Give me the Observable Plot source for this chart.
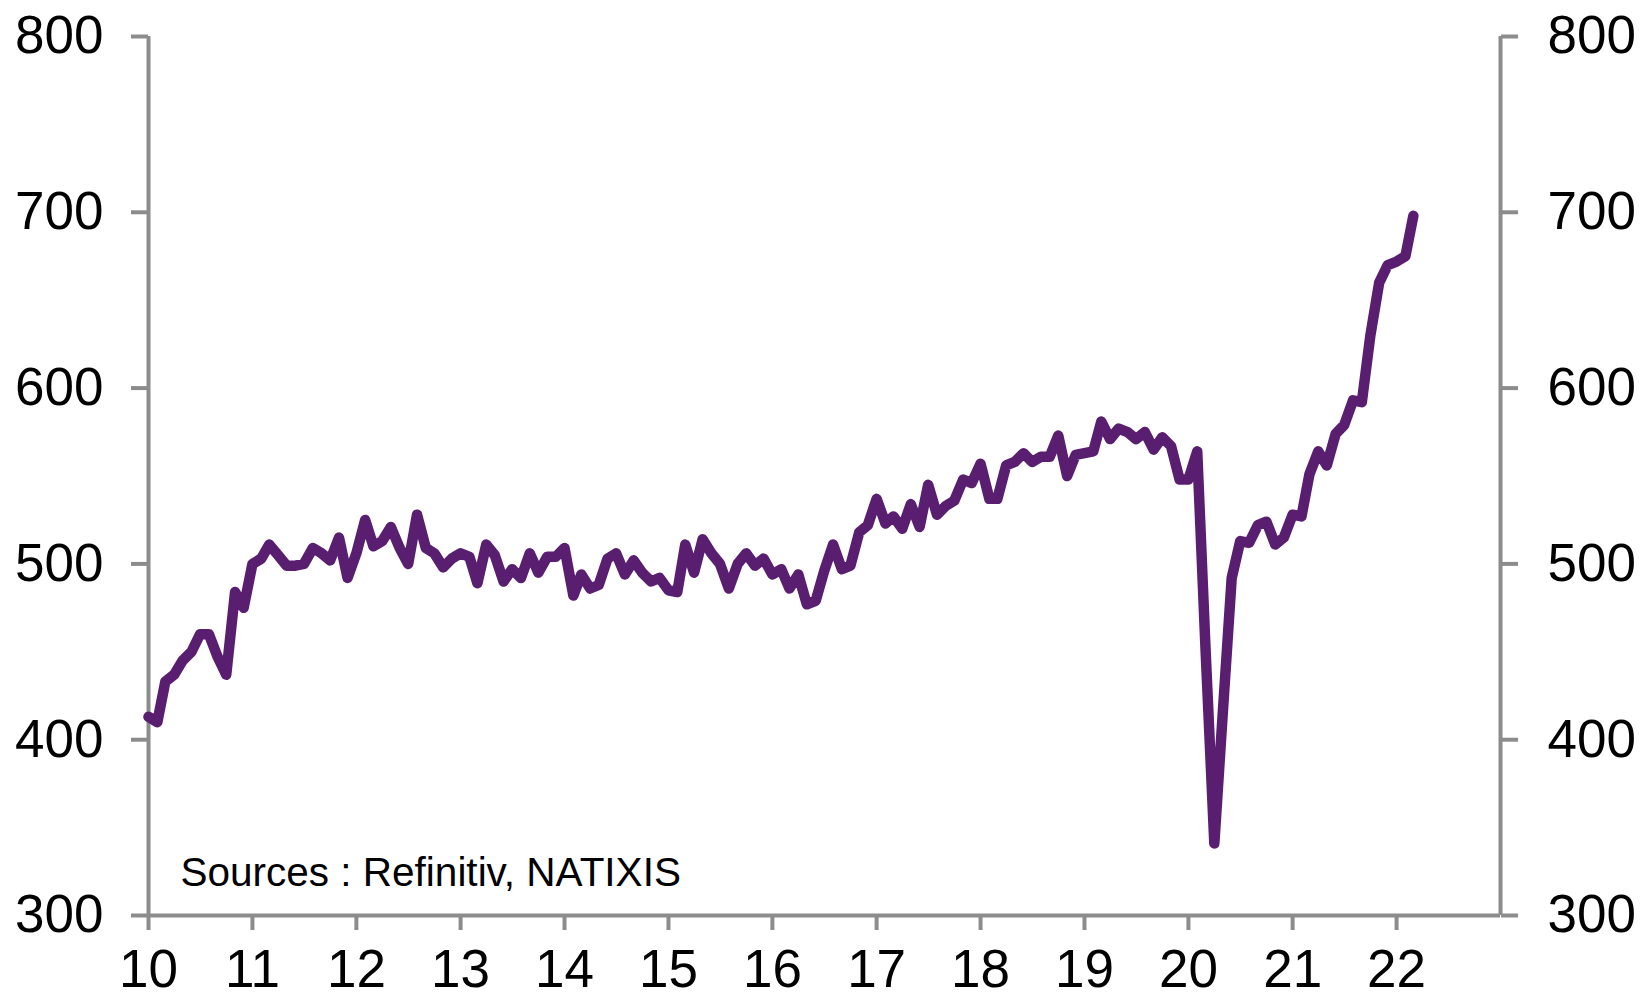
<!DOCTYPE html>
<html>
<head>
<meta charset="utf-8">
<script src="https://cdn.jsdelivr.net/npm/d3@7"></script>
<script src="https://cdn.jsdelivr.net/npm/@observablehq/plot@0.6"></script>
<style>
  html, body { margin: 0; padding: 0; background: #ffffff; }
  #chart svg { display: block; }
</style>
</head>
<body>
<div id="chart"></div>
<script>
// Monthly series, starting January 2010
const firstMonth = "2010-01-01";
const values = [
  413, 410, 433, 437, 445, 450, 460, 460, 447, 437, 484, 475,
  500, 503, 511, 505, 499, 499, 500, 509, 506, 502, 515, 492,
  506, 525, 510, 513, 521, 509, 500, 528, 509, 506, 498, 503,
  506, 504, 489, 511, 505, 490, 497, 492, 506, 495, 504, 504,
  509, 482, 494, 486, 488, 503, 506, 494, 502, 495, 490, 492,
  485, 484, 511, 495, 514, 506, 500, 486, 500, 506, 499, 503,
  494, 497, 486, 494, 477, 479, 496, 511, 497, 499, 518, 522,
  537, 523, 527, 520, 534, 521, 545, 528, 533, 536, 548, 546,
  557, 537, 537, 556, 558, 563, 558, 561, 561, 573, 550, 562,
  563, 564, 581, 571, 577, 575, 571, 575, 565, 572, 567, 548,
  548, 564, 452, 341, 416, 492, 513, 512, 522, 524, 511, 515,
  528, 527, 551, 564, 556, 574, 579, 593, 592, 630, 660, 670,
  672, 675, 698
];
const xTickYears = [2010, 2011, 2012, 2013, 2014, 2015, 2016, 2017, 2018, 2019, 2020, 2021, 2022];
const xTickLabels = ["10", "11", "12", "13", "14", "15", "16", "17", "18", "19", "20", "21", "22"];
const xDomainYears = [2010, 2023];
const yTicks = [300, 400, 500, 600, 700, 800];
const yDomain = [300, 800];
const source = "Sources : Refinitiv, NATIXIS";

const start = new Date(firstMonth + "T00:00:00Z");
const data = values.map((v, i) => ({date: d3.utcMonth.offset(start, i), value: v}));
const xTicks = xTickYears.map(y => new Date(Date.UTC(y, 0, 1)));
const labelOf = new Map(xTicks.map((d, i) => [+d, xTickLabels[i]]));
const xDomain = xDomainYears.map(y => new Date(Date.UTC(y, 0, 1)));

const axisGray = "#8c8c8c";
const lineColor = "#5a1e71";

const chart = Plot.plot({
  width: 1644,
  height: 1000,
  marginLeft: 148,
  marginRight: 144,
  marginTop: 36,
  marginBottom: 85,
  style: {fontFamily: "'Liberation Sans', Arial, sans-serif", background: "#ffffff", color: "#000000"},
  x: {type: "utc", domain: xDomain},
  y: {domain: yDomain},
  marks: [
    Plot.ruleX([xDomain[0], xDomain[1]], {stroke: axisGray, strokeWidth: 4}),
    Plot.ruleY([yDomain[0]], {stroke: axisGray, strokeWidth: 4}),
    Plot.axisY({anchor: "left", ticks: yTicks, tickSize: 17, tickPadding: 28, fontSize: 53,
      stroke: axisGray, strokeWidth: 4, fill: "#000000", label: null}),
    Plot.axisY({anchor: "right", ticks: yTicks, tickSize: 17, tickPadding: 30, fontSize: 53,
      stroke: axisGray, strokeWidth: 4, fill: "#000000", label: null}),
    Plot.axisX({anchor: "bottom", ticks: xTicks, tickFormat: d => labelOf.get(+d), tickSize: 15,
      tickPadding: 19, fontSize: 53, stroke: axisGray, strokeWidth: 4, fill: "#000000", label: null}),
    Plot.line(data, {x: "date", y: "value", stroke: lineColor, strokeWidth: 10.5,
      strokeLinejoin: "round", strokeLinecap: "round"}),
    Plot.text([source], {frameAnchor: "bottom-left", dx: 32, dy: -42, textAnchor: "start",
      lineAnchor: "middle", fontSize: 40.5, fill: "#000000"})
  ]
});
document.getElementById("chart").appendChild(chart);
</script>
</body>
</html>
